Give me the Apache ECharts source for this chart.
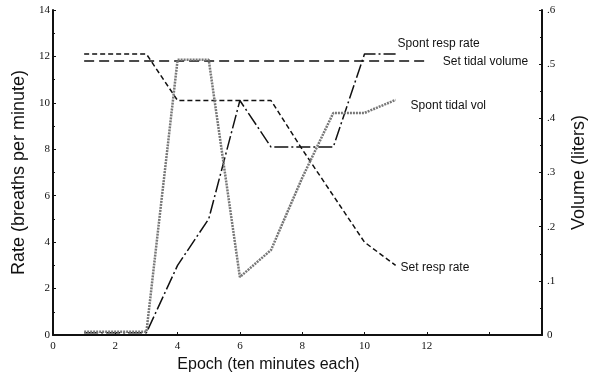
<!DOCTYPE html>
<html>
<head>
<meta charset="utf-8">
<script src="https://cdn.jsdelivr.net/npm/echarts@6/dist/echarts.min.js"></script>
<style>html,body{margin:0;padding:0;background:#fff;}#c{width:599px;height:379px;}</style>
</head>
<body>
<div id="c"></div>
<script>
// Data
var epochs = [1, 2, 3, 4, 5, 6, 7, 8, 9, 10, 11];
var setRespRate = [12.1, 12.1, 12.1, 10.1, 10.1, 10.1, 10.1, 8, 6, 4, 3];
var spontRespRate = [0.1, 0.1, 0.1, 3, 5, 10.1, 8.1, 8.1, 8.1, 12.1, 12.1];
var setTidalEpochs = [1, 2, 3, 4, 5, 6, 7, 8, 9, 10, 11, 12];
var setTidalVolume = [0.506, 0.506, 0.506, 0.506, 0.506, 0.506, 0.506, 0.506, 0.506, 0.506, 0.506, 0.506];
var spontTidalVol = [0.006, 0.006, 0.006, 0.508, 0.508, 0.107, 0.157, 0.29, 0.41, 0.41, 0.434];
var xTicks = [0, 2, 4, 6, 8, 10, 12];
var leftTicks = [0, 2, 4, 6, 8, 10, 12, 14];
var rightTicks = ['0', '.1', '.2', '.3', '.4', '.5', '.6'];

function pairs(xs, ys) { return xs.map(function (x, i) { return [x, ys[i]]; }); }

var chart = echarts.init(document.getElementById('c'), null, { renderer: 'canvas' });
var tickFont = { fontFamily: 'Liberation Serif', fontSize: 11, color: '#111' };
var labelFont = { fontFamily: 'Liberation Sans', fontSize: 12, color: '#111' };

chart.setOption({
  animation: false,
  backgroundColor: '#fff',
  grid: { left: 53, right: 57, top: 10, bottom: 44 },
  xAxis: {
    type: 'value', min: 0, max: 15.7, interval: 2,
    name: 'Epoch (ten minutes each)', nameLocation: 'middle', nameGap: 19,
    nameTextStyle: { fontFamily: 'Liberation Sans', fontSize: 16, color: '#111', padding: [0, 58, 0, 0] },
    axisLine: { lineStyle: { color: '#111', width: 2 } },
    axisTick: { show: true, inside: true, length: 3, lineStyle: { color: '#111' } },
    axisLabel: Object.assign({ margin: 6, showMaxLabel: false,
      formatter: function (v) { return xTicks.indexOf(v) >= 0 ? String(v) : ''; } }, tickFont),
    splitLine: { show: false }
  },
  yAxis: [{
    type: 'value', min: 0, max: 14, interval: 2, position: 'left',
    name: 'Rate (breaths per minute)', nameLocation: 'middle', nameGap: 23, nameRotate: 90,
    nameTextStyle: { fontFamily: 'Liberation Sans', fontSize: 18, color: '#111' },
    axisLine: { show: true, lineStyle: { color: '#111', width: 2 } },
    axisTick: { show: true, inside: true, length: 3, lineStyle: { color: '#111' } },
    minorTick: { show: true, splitNumber: 2, length: 2, lineStyle: { color: '#111' } },
    axisLabel: Object.assign({ margin: 3,
      formatter: function (v) { return leftTicks.indexOf(v) >= 0 ? String(v) : ''; } }, tickFont),
    splitLine: { show: false }
  }, {
    type: 'value', min: 0, max: 0.6, interval: 0.1, position: 'right',
    name: 'Volume (liters)', nameLocation: 'middle', nameGap: 28, nameRotate: 90,
    nameTextStyle: { fontFamily: 'Liberation Sans', fontSize: 18, color: '#111' },
    axisLine: { show: true, lineStyle: { color: '#111', width: 2 } },
    axisTick: { show: true, inside: true, length: 3, lineStyle: { color: '#111' } },
    minorTick: { show: true, splitNumber: 2, length: 2, lineStyle: { color: '#111' } },
    axisLabel: Object.assign({ margin: 5,
      formatter: function (v) { return rightTicks[Math.round(v * 10)]; } }, tickFont),
    splitLine: { show: false }
  }],
  series: [{
    name: 'Set resp rate', type: 'line', yAxisIndex: 0, symbol: 'none',
    data: pairs(epochs, setRespRate),
    lineStyle: { color: '#111', width: 1.5, type: [5, 3] },
    endLabel: Object.assign({ show: true, formatter: 'Set resp rate', offset: [-3, 2] }, labelFont)
  }, {
    name: 'Spont resp rate', type: 'line', yAxisIndex: 0, symbol: 'none',
    data: pairs(epochs, spontRespRate),
    lineStyle: { color: '#111', width: 1.5, type: [14, 3, 2, 3] },
    endLabel: Object.assign({ show: true, formatter: 'Spont resp rate', offset: [-6, -10] }, labelFont)
  }, {
    name: 'Set tidal volume', type: 'line', yAxisIndex: 1, symbol: 'none',
    data: pairs(setTidalEpochs, setTidalVolume),
    lineStyle: { color: '#111', width: 1.5, type: [10, 5] },
    endLabel: Object.assign({ show: true, formatter: 'Set tidal volume', offset: [8, 1] }, labelFont)
  }, {
    name: 'Spont tidal vol', type: 'line', yAxisIndex: 1, symbol: 'none',
    data: pairs(epochs, spontTidalVol),
    lineStyle: { color: '#777', width: 2.5, type: [2, 1] },
    endLabel: Object.assign({ show: true, formatter: 'Spont tidal vol', offset: [7, 6] }, labelFont)
  }]
});
</script>
</body>
</html>
